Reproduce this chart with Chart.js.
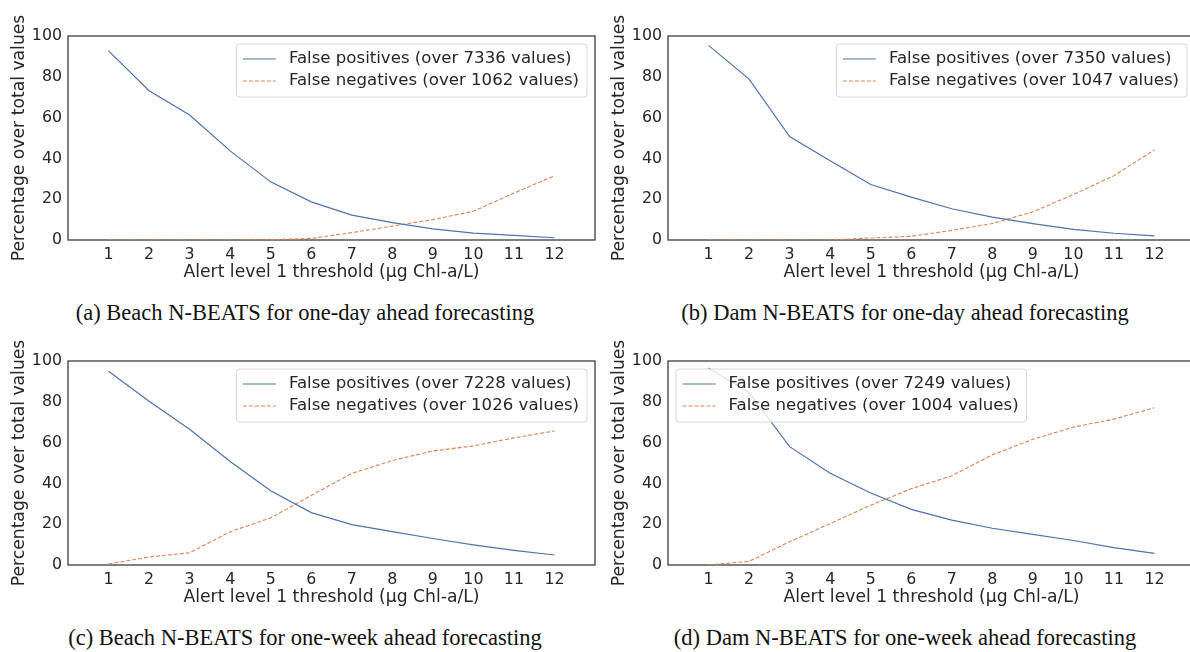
<!DOCTYPE html>
<html>
<head>
<meta charset="utf-8">
<script src="https://cdn.jsdelivr.net/npm/chart.js@4.4.0/dist/chart.umd.min.js"></script>
<style>
  html, body { margin: 0; padding: 0; background: #fff; overflow: hidden; }
  body { width: 1190px; height: 652px; position: relative; }
  canvas { position: absolute; }
  .caption {
    position: absolute; width: 600px; text-align: center;
    font-family: "Liberation Serif", "Times New Roman", serif;
    font-size: 22.5px; line-height: 22px; color: #111;
  }
</style>
</head>
<body>
<canvas id="beachDay" width="600" height="283" style="left:0;top:0"></canvas>
<canvas id="damDay" width="600" height="283" style="left:600px;top:0"></canvas>
<canvas id="beachWeek" width="600" height="283" style="left:0;top:325px"></canvas>
<canvas id="damWeek" width="600" height="283" style="left:600px;top:325px"></canvas>
<div class="caption" style="left:5px;top:302px">(a) Beach N-BEATS for one-day ahead forecasting</div>
<div class="caption" style="left:605px;top:302px">(b) Dam N-BEATS for one-day ahead forecasting</div>
<div class="caption" style="left:5px;top:627px">(c) Beach N-BEATS for one-week ahead forecasting</div>
<div class="caption" style="left:605px;top:627px">(d) Dam N-BEATS for one-week ahead forecasting</div>
<script>
// Alert level 1 thresholds (x axis)
const thresholds = [1, 2, 3, 4, 5, 6, 7, 8, 9, 10, 11, 12];
const yTicks = [0, 20, 40, 60, 80, 100];

// (a) Beach, one-day ahead
const beachDayFP = [92.7, 73.2, 61.3, 43.7, 28.5, 18.7, 12.2, 8.5, 5.5, 3.4, 2.3, 1.1];
const beachDayFN = [0, 0, 0, 0, 0.1, 0.8, 3.6, 6.8, 10.0, 14.1, 23.0, 31.5];
// (b) Dam, one-day ahead
const damDayFP = [95.4, 78.9, 50.7, 38.9, 27.2, 21.0, 15.3, 11.2, 8.0, 5.2, 3.3, 2.0];
const damDayFN = [0, 0, 0, 0, 1.0, 1.8, 4.7, 8.1, 13.8, 22.3, 31.5, 44.2];
// (c) Beach, one-week ahead
const beachWeekFP = [95.0, 80.3, 66.5, 50.7, 36.4, 25.7, 19.8, 16.4, 13.0, 9.9, 7.2, 4.9];
const beachWeekFN = [0.5, 3.9, 6.0, 16.3, 23.1, 34.1, 44.9, 51.2, 55.9, 58.4, 62.3, 65.7];
// (d) Dam, one-week ahead
const damWeekFP = [96.6, 84.6, 58.0, 45.0, 35.3, 27.3, 22.0, 18.0, 15.0, 12.0, 8.5, 5.7];
const damWeekFN = [0, 1.8, 11.4, 20.3, 29.3, 37.4, 43.7, 54.0, 61.6, 67.6, 71.5, 77.1];

const textColor = '#262626';
const fpColor = '#4c72b0';
const fnColor = '#dd8452';

Chart.defaults.font.family = '"DejaVu Sans", sans-serif';
Chart.defaults.color = textColor;

// frame around the axes (matplotlib spines)
const framePlugin = {
    id: 'frame',
    beforeDatasetsDraw(chart) {
        const { ctx, chartArea: a } = chart;
        ctx.save();
        ctx.strokeStyle = '#333333';
        ctx.lineWidth = 1.25;
        ctx.strokeRect(a.left, a.top, a.right - a.left, a.bottom - a.top);
        ctx.restore();
    }
};

// legend box drawn inside the axes
const boxLegend = {
    id: 'boxLegend',
    afterDatasetsDraw(chart, args, opts) {
        const { ctx, chartArea: a } = chart;
        const sets = chart.data.datasets;
        ctx.save();
        ctx.font = '16.6px "DejaVu Sans"';
        const textW = Math.max(...sets.map(d => ctx.measureText(d.label).width));
        const w = 6.5 + 33 + 13 + textW + 8;
        const h = 53;
        const x = opts.align === 'left' ? a.left + 8 : a.right - 8 - w;
        const y = a.top + 8;

        ctx.beginPath();
        ctx.roundRect(x, y, w, h, 3);
        ctx.fillStyle = 'rgba(255,255,255,0.8)';
        ctx.fill();
        ctx.strokeStyle = '#d6d6d6';
        ctx.lineWidth = 1;
        ctx.stroke();

        sets.forEach((d, i) => {
            const ry = y + 15 + i * 22;
            ctx.beginPath();
            ctx.setLineDash(d.borderDash || []);
            ctx.strokeStyle = d.borderColor;
            ctx.lineWidth = d.borderWidth;
            ctx.moveTo(x + 6.5, ry);
            ctx.lineTo(x + 39.5, ry);
            ctx.stroke();
            ctx.setLineDash([]);
            ctx.fillStyle = textColor;
            ctx.textBaseline = 'middle';
            ctx.fillText(d.label, x + 52.5, ry);
        });
        ctx.restore();
    }
};

function toPoints(values) {
    return thresholds.map((t, i) => ({ x: t, y: values[i] }));
}

function createPanel(id, fp, fn, fpTotal, fnTotal, legendAlign) {
    const ctx = document.getElementById(id);
    return new Chart(ctx, {
        type: 'line',
        data: {
            datasets: [
                {
                    label: `False positives (over ${fpTotal} values)`,
                    data: toPoints(fp),
                    borderColor: fpColor,
                    borderWidth: 1.2,
                    pointRadius: 0,
                    tension: 0
                },
                {
                    label: `False negatives (over ${fnTotal} values)`,
                    data: toPoints(fn),
                    borderColor: fnColor,
                    borderWidth: 1.1,
                    borderDash: [4, 2],
                    pointRadius: 0,
                    tension: 0
                }
            ]
        },
        options: {
            responsive: false,
            animation: false,
            layout: { padding: { left: 0, right: 5, top: 36, bottom: 0 } },
            plugins: {
                legend: { display: false },
                tooltip: { enabled: false },
                boxLegend: { align: legendAlign }
            },
            scales: {
                x: {
                    type: 'linear',
                    min: 0,
                    max: 13,
                    afterBuildTicks: scale => { scale.ticks = thresholds.map(v => ({ value: v })); },
                    afterFit: scale => { scale.height = 43; },
                    grid: { display: false, drawTicks: false },
                    border: { display: false },
                    ticks: { padding: 5, font: { size: 15.8 }, color: textColor, maxRotation: 0, autoSkip: false },
                    title: {
                        display: true,
                        text: 'Alert level 1 threshold (µg Chl-a/L)',
                        font: { size: 17.2 },
                        padding: { top: 0, bottom: 0 },
                        color: textColor
                    }
                },
                y: {
                    min: 0,
                    max: 100,
                    afterBuildTicks: scale => { scale.ticks = yTicks.map(v => ({ value: v })); },
                    afterFit: scale => { scale.width = 68; },
                    grid: { display: false, drawTicks: false },
                    border: { display: false },
                    ticks: { padding: 6, font: { size: 15.8 }, color: textColor },
                    title: {
                        display: true,
                        text: 'Percentage over total values',
                        font: { size: 17.2 },
                        padding: { top: 9, bottom: 0 },
                        color: textColor
                    }
                }
            }
        },
        plugins: [framePlugin, boxLegend]
    });
}

createPanel('beachDay', beachDayFP, beachDayFN, 7336, 1062, 'right');
createPanel('damDay', damDayFP, damDayFN, 7350, 1047, 'right');
createPanel('beachWeek', beachWeekFP, beachWeekFN, 7228, 1026, 'right');
createPanel('damWeek', damWeekFP, damWeekFN, 7249, 1004, 'left');
</script>
</body>
</html>
